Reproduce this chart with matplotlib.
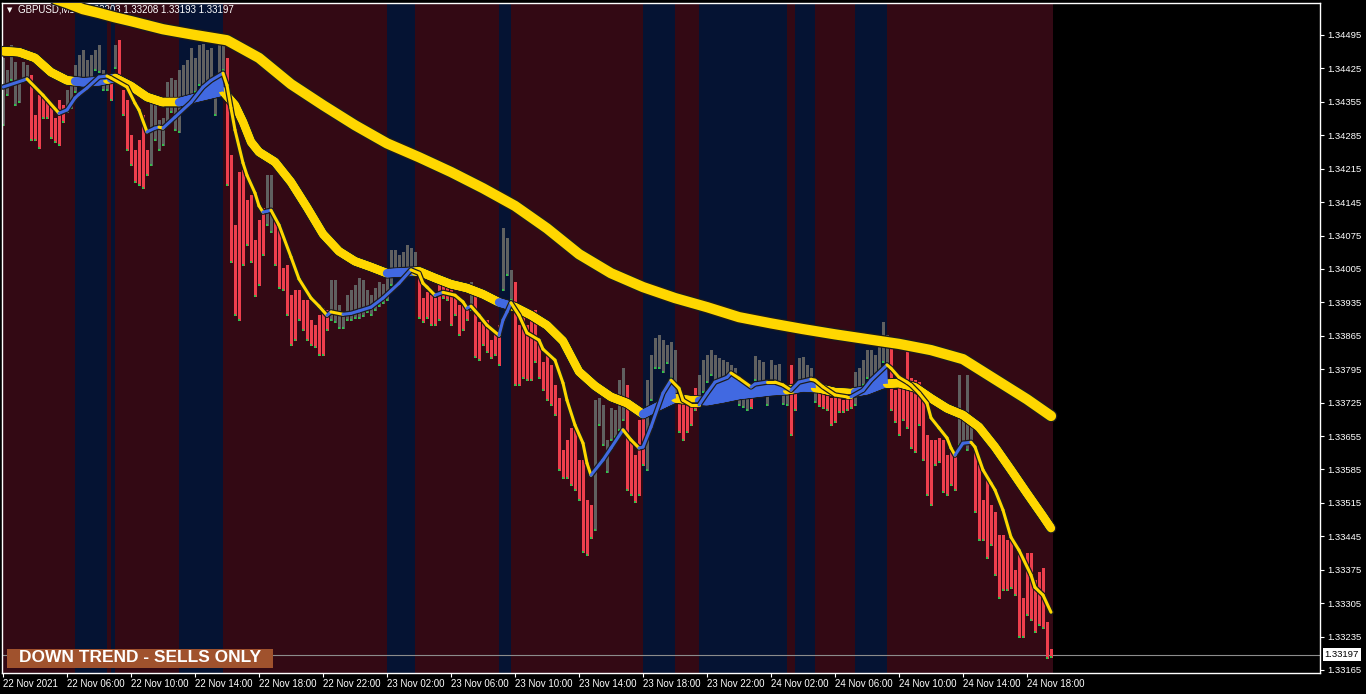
import numpy as np
import matplotlib
matplotlib.use("Agg")
from matplotlib import pyplot as plt
from matplotlib import transforms
from matplotlib.collections import LineCollection
from matplotlib.patches import Rectangle

# all prices below are in points (0.00001) above BASE
BASE = 1.30

opens = [
    4375, 4390, 4411, 4363, 4365, 4407, 4411, 4373, 4308, 4359, 4352, 4338, 4333, 4310, 4331, 4338,
    4342, 4352, 4384, 4411, 4415, 4411, 4417, 4436, 4432, 4390, 4390, 4390, 4436, 4459, 4354, 4344,
    4271, 4237, 4260, 4302, 4229, 4250, 4296, 4275, 4281, 4323, 4369, 4365, 4365, 4386, 4390, 4394,
    4400, 4411, 4407, 4415, 4400, 4348, 4421, 4442, 4444, 4227, 4080, 4187, 4191, 4134, 4134, 4051,
    4072, 4111, 4134, 4134, 4093, 4076, 3992, 3988, 3940, 3944, 3946, 3925, 3908, 3873, 3871, 3891,
    3898, 3898, 3923, 3923, 3894, 3894, 3915, 3919, 3925, 3923, 3933, 3929, 3923, 3935, 3940, 3946,
    3961, 4007, 4013, 4009, 4009, 4019, 4023, 4013, 3977, 3929, 3944, 3933, 3929, 3965, 3965, 3965,
    3944, 3929, 3912, 3919, 3919, 3935, 3940, 3877, 3883, 3881, 3841, 3856, 3873, 3998, 4023, 3961,
    3967, 3866, 3898, 3866, 3877, 3894, 3829, 3793, 3808, 3793, 3747, 3715, 3605, 3621, 3663, 3663,
    3584, 3590, 3496, 3496, 3464, 3713, 3653, 3600, 3674, 3674, 3682, 3709, 3705, 3632, 3598, 3684,
    3684, 3605, 3762, 3814, 3814, 3810, 3821, 3799, 3789, 3724, 3730, 3713, 3713, 3734, 3734, 3757,
    3787, 3799, 3778, 3776, 3787, 3787, 3783, 3778, 3726, 3726, 3715, 3724, 3787, 3787, 3783, 3730,
    3772, 3776, 3776, 3730, 3730, 3741, 3741, 3772, 3778, 3778, 3783, 3734, 3736, 3730, 3726, 3720,
    3730, 3724, 3715, 3726, 3730, 3757, 3751, 3779, 3789, 3783, 3787, 3804, 3821, 3810, 3839, 3734,
    3751, 3758, 3783, 3766, 3741, 3726, 3720, 3636, 3632, 3632, 3632, 3632, 3588, 3605, 3605, 3651,
    3651, 3647, 3651, 3605, 3504, 3500, 3542, 3479, 3479, 3433, 3431, 3420, 3420, 3349, 3385, 3295,
    3410, 3410, 3338, 3364, 3364, 3259, 3203,
]
highs = [
    4447, 4421, 4474, 4438, 4400, 4438, 4432, 4411, 4327, 4369, 4369, 4359, 4342, 4321, 4359, 4348,
    4380, 4400, 4432, 4453, 4463, 4442, 4453, 4463, 4474, 4421, 4411, 4400, 4474, 4484, 4380, 4359,
    4285, 4254, 4275, 4327, 4254, 4369, 4359, 4317, 4321, 4396, 4405, 4400, 4421, 4432, 4442, 4467,
    4447, 4474, 4476, 4463, 4467, 4390, 4474, 4474, 4447, 4243, 4097, 4208, 4212, 4149, 4160, 4065,
    4107, 4132, 4201, 4201, 4114, 4090, 4007, 4013, 3950, 3961, 3961, 3940, 3940, 3898, 3887, 3908,
    3923, 3919, 3982, 3982, 3929, 3915, 3950, 3961, 3971, 3986, 3982, 3961, 3950, 3965, 3977, 3973,
    3992, 4044, 4044, 4034, 4040, 4055, 4049, 4040, 4003, 3944, 3956, 3950, 3944, 3982, 3975, 3982,
    3961, 3944, 3929, 3935, 3929, 3977, 3950, 3894, 3902, 3898, 3856, 3873, 3887, 4090, 4070, 4003,
    3977, 3887, 3912, 3887, 3902, 3919, 3856, 3810, 3824, 3804, 3762, 3734, 3626, 3646, 3672, 3672,
    3605, 3605, 3521, 3510, 3730, 3734, 3720, 3646, 3713, 3709, 3772, 3797, 3762, 3646, 3615, 3688,
    3692, 3772, 3824, 3860, 3866, 3856, 3845, 3852, 3835, 3741, 3741, 3730, 3730, 3755, 3783, 3814,
    3824, 3835, 3824, 3818, 3814, 3810, 3804, 3797, 3747, 3747, 3747, 3734, 3822, 3814, 3810, 3755,
    3814, 3804, 3806, 3755, 3755, 3804, 3762, 3818, 3820, 3804, 3797, 3762, 3747, 3743, 3739, 3734,
    3747, 3736, 3730, 3741, 3741, 3789, 3797, 3814, 3835, 3835, 3825, 3850, 3894, 3866, 3856, 3751,
    3783, 3772, 3831, 3776, 3772, 3768, 3730, 3657, 3646, 3646, 3651, 3646, 3615, 3626, 3626, 3783,
    3709, 3783, 3692, 3630, 3594, 3521, 3563, 3510, 3496, 3447, 3447, 3437, 3437, 3374, 3406, 3316,
    3410, 3410, 3353, 3370, 3379, 3265, 3208,
]
lows = [
    4306, 4369, 4400, 4348, 4354, 4400, 4400, 4275, 4275, 4258, 4321, 4321, 4279, 4271, 4264, 4313,
    4333, 4342, 4375, 4400, 4405, 4396, 4405, 4421, 4417, 4380, 4380, 4359, 4426, 4400, 4327, 4254,
    4222, 4187, 4180, 4174, 4201, 4222, 4275, 4254, 4264, 4306, 4333, 4296, 4292, 4338, 4359, 4369,
    4375, 4390, 4380, 4390, 4375, 4327, 4369, 4421, 4180, 4019, 3908, 3898, 4013, 4055, 4019, 3948,
    3971, 4034, 4097, 4082, 4013, 3965, 3961, 3908, 3845, 3856, 3898, 3877, 3856, 3845, 3841, 3824,
    3824, 3877, 3898, 3894, 3881, 3881, 3898, 3898, 3902, 3902, 3906, 3915, 3908, 3919, 3927, 3933,
    3940, 3971, 3998, 3998, 3992, 4003, 4007, 3998, 3902, 3894, 3902, 3887, 3887, 3898, 3944, 3940,
    3887, 3908, 3866, 3877, 3898, 3919, 3820, 3814, 3845, 3831, 3818, 3824, 3804, 3961, 3992, 3940,
    3762, 3762, 3776, 3772, 3772, 3810, 3776, 3751, 3730, 3720, 3699, 3584, 3567, 3567, 3552, 3542,
    3521, 3412, 3406, 3441, 3458, 3678, 3636, 3580, 3646, 3653, 3667, 3688, 3542, 3531, 3517, 3531,
    3594, 3584, 3730, 3797, 3797, 3789, 3808, 3776, 3741, 3663, 3646, 3663, 3678, 3709, 3720, 3747,
    3768, 3783, 3762, 3762, 3772, 3766, 3768, 3762, 3720, 3715, 3709, 3713, 3772, 3768, 3768, 3720,
    3762, 3764, 3762, 3722, 3720, 3657, 3709, 3762, 3768, 3762, 3772, 3726, 3718, 3713, 3709, 3678,
    3684, 3705, 3705, 3709, 3713, 3720, 3741, 3762, 3776, 3772, 3776, 3793, 3810, 3797, 3710, 3684,
    3657, 3689, 3672, 3630, 3621, 3678, 3605, 3531, 3510, 3594, 3600, 3538, 3531, 3552, 3542, 3636,
    3636, 3626, 3636, 3496, 3437, 3437, 3399, 3427, 3364, 3316, 3332, 3332, 3336, 3322, 3234, 3234,
    3280, 3270, 3244, 3259, 3253, 3190, 3193,
]
closes = [
    4426, 4400, 4447, 4390, 4390, 4421, 4421, 4300, 4304, 4310, 4333, 4333, 4310, 4292, 4292, 4321,
    4359, 4386, 4411, 4438, 4438, 4421, 4438, 4449, 4457, 4405, 4400, 4363, 4459, 4411, 4344, 4271,
    4239, 4201, 4201, 4180, 4212, 4348, 4331, 4292, 4296, 4380, 4380, 4380, 4384, 4405, 4405, 4411,
    4415, 4438, 4438, 4442, 4444, 4369, 4459, 4459, 4243, 4061, 3929, 3929, 4049, 4086, 4051, 3988,
    3988, 4070, 4191, 4191, 4044, 3982, 3977, 3925, 3873, 3877, 3923, 3904, 3871, 3860, 3860, 3835,
    3835, 3891, 3967, 3967, 3902, 3902, 3929, 3940, 3948, 3965, 3975, 3940, 3935, 3950, 3961, 3961,
    3977, 4030, 4028, 4017, 4023, 4038, 4038, 4028, 3925, 3915, 3919, 3912, 3912, 3923, 3961, 3956,
    3912, 3923, 3891, 3891, 3912, 3946, 3835, 3835, 3866, 3839, 3831, 3839, 3824, 4051, 4055, 3971,
    3778, 3778, 3793, 3793, 3793, 3824, 3793, 3778, 3736, 3734, 3715, 3590, 3590, 3577, 3579, 3567,
    3535, 3422, 3422, 3464, 3724, 3726, 3713, 3609, 3688, 3699, 3715, 3720, 3569, 3567, 3542, 3542,
    3600, 3757, 3808, 3841, 3841, 3831, 3831, 3831, 3814, 3682, 3667, 3672, 3688, 3720, 3762, 3793,
    3799, 3808, 3799, 3793, 3797, 3797, 3793, 3787, 3736, 3736, 3736, 3720, 3799, 3799, 3793, 3745,
    3793, 3787, 3787, 3741, 3741, 3720, 3720, 3799, 3799, 3789, 3787, 3747, 3726, 3724, 3720, 3688,
    3688, 3715, 3713, 3715, 3720, 3772, 3783, 3797, 3814, 3814, 3804, 3835, 3839, 3839, 3726, 3705,
    3710, 3734, 3734, 3642, 3672, 3695, 3636, 3567, 3567, 3621, 3626, 3542, 3542, 3584, 3580, 3682,
    3682, 3682, 3678, 3500, 3496, 3496, 3458, 3454, 3378, 3338, 3338, 3343, 3347, 3343, 3280, 3280,
    3295, 3295, 3270, 3280, 3259, 3200, 3197,
]

# candle colouring of the trend indicator: (state, number of bars)
trend_runs = [
    ("up", 7), ("dn", 9), ("up", 11), ("dn", 1), ("up", 1), ("dn", 8), ("up", 19), ("dn", 10),
    ("up", 2), ("dn", 14), ("up", 22), ("dn", 13), ("up", 1), ("dn", 7), ("up", 3), ("dn", 20),
    ("up", 8), ("dn", 5), ("up", 8), ("dn", 5), ("up", 13), ("dn", 1), ("up", 9), ("dn", 2),
    ("up", 5), ("dn", 9), ("up", 9), ("dn", 17), ("up", 4), ("dn", 20),
]

# blue background sessions, in bar units
band_start = [18, 27, 44, 96, 124, 160, 174, 198, 213]
band_end = [26, 28, 55, 103, 127, 168, 196, 203, 221]

# moving averages (bar index, points)
slow_idx = [0, 8, 16, 20, 24, 28, 32, 40, 48, 56, 64, 72, 80, 88, 96, 104, 112, 120, 128, 136,
            144, 152, 160, 168, 176, 184, 192, 200, 208, 216, 224, 232, 240, 248, 256, 262]
slow_pts = [4606, 4585, 4562, 4549, 4541, 4532, 4524, 4507, 4495, 4484, 4447, 4392, 4348, 4306,
            4268, 4239, 4208, 4174, 4137, 4090, 4036, 3996, 3967, 3944, 3925, 3904, 3891, 3879,
            3868, 3858, 3848, 3835, 3816, 3774, 3732, 3697]

med_idx = [0, 4, 8, 12, 16, 20, 24, 28, 32, 36, 40, 44, 48, 52, 55, 58, 60, 62, 64, 68, 72, 76,
           80, 84, 88, 92, 96, 100, 104, 108, 112, 116, 120, 124, 128, 132, 136, 140, 144, 148,
           152, 156, 160, 164, 168, 172, 176, 180, 184, 188, 192, 196, 200, 204, 208, 212, 216,
           220, 224, 228, 232, 236, 240, 244, 248, 252, 256, 260, 262]
med_pts = [4461, 4459, 4447, 4417, 4400, 4396, 4398, 4405, 4388, 4365, 4354, 4354, 4363, 4371,
           4377, 4348, 4313, 4271, 4250, 4229, 4187, 4134, 4078, 4042, 4021, 4009, 3996, 3998,
           4000, 3986, 3973, 3965, 3952, 3935, 3925, 3908, 3887, 3854, 3790, 3760, 3737, 3724,
           3701, 3718, 3734, 3730, 3728, 3734, 3741, 3745, 3749, 3751, 3757, 3755, 3747, 3745,
           3751, 3764, 3766, 3757, 3734, 3713, 3699, 3674, 3632, 3584, 3535, 3487, 3462]

fast_idx = [0, 5, 6, 10, 14, 16, 18, 19, 21, 24, 26, 27, 31, 33, 34, 36, 38, 39, 40, 43,
            47, 50, 52, 55, 56, 57, 58, 60, 61, 63, 64, 65, 66, 67, 69, 72, 74, 77, 79, 81,
            82, 85, 87, 89, 92, 95, 99, 102, 104, 105, 106, 108, 110, 113, 115, 116, 117, 119,
            121, 124, 125, 126, 127, 129, 131, 134, 135, 138, 140, 141, 143, 145, 146, 147, 150,
            152, 155, 157, 159, 160, 162, 165, 167, 169, 170, 172, 174, 176, 178, 181, 182, 184,
            187, 188, 191, 193, 195, 197, 199, 202, 203, 205, 208, 211, 212, 215, 217, 221, 222,
            224, 226, 227, 229, 231, 232, 234, 236, 237, 238, 240, 242, 243, 245, 247, 248, 250,
            252, 254, 257, 258, 260, 262]
fast_pts = [4386, 4400, 4403, 4369, 4331, 4338, 4363, 4371, 4384, 4407, 4409, 4405, 4386, 4352,
            4338, 4292, 4300, 4302, 4300, 4323, 4354, 4386, 4400, 4415, 4390, 4342, 4296, 4227,
            4201, 4164, 4137, 4124, 4126, 4128, 4097, 4030, 3984, 3944, 3927, 3908, 3915, 3910,
            3912, 3917, 3925, 3944, 3975, 4003, 3996, 3975, 3967, 3950, 3956, 3950, 3936, 3923,
            3927, 3908, 3887, 3866, 3898, 3915, 3934, 3908, 3871, 3856, 3837, 3814, 3766, 3730,
            3678, 3640, 3598, 3573, 3605, 3630, 3668, 3647, 3630, 3632, 3674, 3745, 3772, 3755,
            3730, 3720, 3720, 3745, 3768, 3778, 3787, 3776, 3758, 3764, 3768, 3768, 3762, 3751,
            3768, 3774, 3772, 3758, 3741, 3737, 3737, 3751, 3772, 3804, 3797, 3778, 3768, 3762,
            3745, 3724, 3693, 3672, 3651, 3630, 3615, 3640, 3642, 3632, 3584, 3556, 3542, 3500,
            3443, 3416, 3364, 3338, 3322, 3286]

time_ticks = [0, 16, 32, 48, 64, 80, 96, 112, 128, 144, 160, 176, 192, 208, 224, 240, 256]
time_labels = ["22 Nov 2021", "22 Nov 06:00", "22 Nov 10:00", "22 Nov 14:00", "22 Nov 18:00",
               "22 Nov 22:00", "23 Nov 02:00", "23 Nov 06:00", "23 Nov 10:00", "23 Nov 14:00",
               "23 Nov 18:00", "23 Nov 22:00", "24 Nov 02:00", "24 Nov 06:00", "24 Nov 10:00",
               "24 Nov 14:00", "24 Nov 18:00"]
price_labels = ["1.34495", "1.34425", "1.34355", "1.34285", "1.34215", "1.34145", "1.34075",
                "1.34005", "1.33935", "1.33865", "1.33795", "1.33725", "1.33655", "1.33585",
                "1.33515", "1.33445", "1.33375", "1.33305", "1.33235", "1.33165"]

RED_BG = "#330914"
NAVY_BG = "#051333"
CANDLE_DN = "#ee3f4d"
CANDLE_UP = "#606060"
YELLOW = "#ffd700"
BLUE = "#4169e1"
OUTLINE = "#1c1c1c"

plt.rcParams["font.family"] = ["Liberation Sans", "DejaVu Sans"]


def to_price(points):
    return BASE + np.asarray(points, dtype=float) * 1e-5


def in_bands(x):
    mask = np.zeros_like(x, dtype=bool)
    for s, e in zip(band_start, band_end):
        mask |= (x >= s) & (x <= e)
    return mask


fig = plt.figure(figsize=(13.66, 6.94), dpi=100, facecolor="black")
ax = fig.add_axes([2 / 1366, 21 / 694, 1318 / 1366, 670 / 694], facecolor="black")
ax.set_xlim(-0.25, 329.25)
ax.set_ylim(1.331587, 1.345620)

# session background
ax.axvspan(-0.25, 262.5, color=RED_BG, lw=0, zorder=0)
for s, e in zip(band_start, band_end):
    ax.axvspan(s, e, color=NAVY_BG, lw=0, zorder=0.1)

# candles
trend = []
for state, n in trend_runs:
    trend += [state] * n
idx = np.arange(len(closes))
o, h, l, c = (to_price(v) for v in (opens, highs, lows, closes))
cols = [CANDLE_UP if t == "up" else CANDLE_DN for t in trend]
ax.axhline(c[-1], color="#8c8c8c", lw=0.8, zorder=1.5)
ax.vlines(idx, l, h, colors=cols, lw=0.75, antialiased=False, zorder=2)
ax.bar(idx, np.maximum(np.abs(c - o), 1.2e-5), bottom=np.minimum(o, c), width=0.72,
       color=cols, lw=0, antialiased=False, zorder=2.1)
ax.scatter(idx, l, s=1.0, marker="s", color="#2fc14a", lw=0, zorder=2.2)

# title text sits under the slow average, as in the terminal
ax.text(5 / 1318, 1 - 7 / 670, "\u25bc", transform=ax.transAxes, color="white", fontsize=5,
        va="center", family=["DejaVu Sans"], zorder=3)
ax.text(16 / 1318, 1 - 7 / 670, "GBPUSD,M15  1.33203 1.33208 1.33193 1.33197",
        transform=ax.transAxes, color="white", fontsize=7, va="center", zorder=3)

# slow average
slow = to_price(slow_pts)
ax.plot(slow_idx, slow, color=OUTLINE, lw=9.3, solid_capstyle="round",
        solid_joinstyle="round", zorder=4)
ax.plot(slow_idx, slow, color=YELLOW, lw=7.4, solid_capstyle="round",
        solid_joinstyle="round", zorder=4.1)

# medium average, blue inside the blue sessions
med = to_price(med_pts)
fast = to_price(fast_pts)
grid = np.arange(0, 262.01, 0.25)
med_g = np.interp(grid, med_idx, med)
fast_g = np.interp(grid, fast_idx, fast)
ax.plot(med_idx, med, color=OUTLINE, lw=7.8, solid_capstyle="round",
        solid_joinstyle="round", zorder=5)
segs = np.stack([np.column_stack([grid[:-1], med_g[:-1]]),
                 np.column_stack([grid[1:], med_g[1:]])], axis=1)
mid = (grid[:-1] + grid[1:]) / 2
seg_cols = [BLUE if b else YELLOW for b in in_bands(mid)]
ax.add_collection(LineCollection(segs, colors=seg_cols, linewidths=6.0, capstyle="round",
                                 zorder=5.1))
ax.fill_between(grid, med_g, fast_g, where=(fast_g > med_g) & in_bands(grid),
                color=BLUE, lw=0, interpolate=True, zorder=5.2)

# fast average, blue while rising
ax.plot(fast_idx, fast, color=OUTLINE, lw=4.0, solid_capstyle="round",
        solid_joinstyle="round", zorder=6)
fsegs = np.stack([np.column_stack([fast_idx[:-1], fast[:-1]]),
                  np.column_stack([fast_idx[1:], fast[1:]])], axis=1)
fcols = [BLUE if b > a else YELLOW for a, b in zip(fast[:-1], fast[1:])]
ax.add_collection(LineCollection(fsegs, colors=fcols, linewidths=2.2, capstyle="round",
                                 zorder=6.1))

# banner
ax.add_patch(Rectangle((5 / 1318, 5 / 670), 266 / 1318, 19 / 670, transform=ax.transAxes,
                       facecolor="#a0522d", edgecolor="none", zorder=8))
ax.text(138 / 1318, 15 / 670, "DOWN TREND - SELLS ONLY", transform=ax.transAxes,
        color="white", fontsize=12.5, fontweight="bold", ha="center", va="center", zorder=9)

# current price tag
tr = transforms.blended_transform_factory(ax.transAxes, ax.transData)
ax.text(1.0035, c[-1], "1.33197", transform=tr, color="black", fontsize=6.8, va="center",
        ha="left", clip_on=False, zorder=10,
        bbox=dict(boxstyle="square,pad=0.2", facecolor="white", edgecolor="none"))

# axes
ax.yaxis.tick_right()
ax.set_yticks([float(p) for p in price_labels])
ax.set_yticklabels(price_labels)
ax.yaxis.get_offset_text().set_visible(False)
ax.set_xticks(time_ticks)
ax.set_xticklabels(time_labels)
for lab in ax.get_xticklabels():
    lab.set_horizontalalignment("left")
ax.tick_params(axis="y", colors="white", length=3, width=0.8, labelsize=6.8, pad=2)
ax.tick_params(axis="x", colors="white", length=3, width=0.8, labelsize=7, pad=1)
for sp in ax.spines.values():
    sp.set_color("white")
    sp.set_linewidth(1)

fig.savefig("out.png", dpi=100, facecolor="black")
